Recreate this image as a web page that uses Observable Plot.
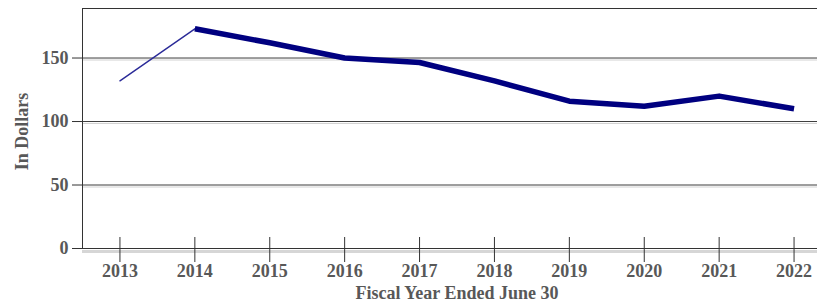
<!DOCTYPE html>
<html>
<head>
<meta charset="utf-8">
<script src="https://cdn.jsdelivr.net/npm/d3@7"></script>
<script src="https://cdn.jsdelivr.net/npm/@observablehq/plot@0.6"></script>
<style>
  html, body { margin: 0; padding: 0; background: #fff; overflow: hidden; }
  #chart { width: 817px; height: 303px; overflow: hidden; }
  #chart svg { max-width: none !important; }
</style>
</head>
<body>
<div id="chart"></div>
<script>
const years = [2013, 2014, 2015, 2016, 2017, 2018, 2019, 2020, 2021, 2022];
const values = [132, 173, 162, 150, 146.5, 132, 116, 112, 120, 110];
const yTicks = [0, 50, 100, 150];
const xTitle = "Fiscal Year Ended June 30";
const yTitle = "In Dollars";

const data = years.map((y, i) => ({year: y, value: values[i]}));
const thin = data.slice(0, 2);
const thick = data.slice(1);

const textColor = "#585858";

const plot = Plot.plot({
  width: 831,
  height: 303,
  marginLeft: 82,
  marginRight: 0,
  marginTop: 8,
  marginBottom: 55,
  style: {fontFamily: "'Liberation Serif', 'Times New Roman', serif", fontSize: "18px", fontWeight: "bold", color: textColor, background: "#fff", maxWidth: "none"},
  x: {type: "point", domain: years, padding: 0.5, round: false, label: null},
  y: {domain: [0, 189], round: false, label: null},
  marks: [
    Plot.gridY(yTicks, {stroke: "#d2d2d2", strokeOpacity: 1, dy: 2}),
    Plot.gridY(yTicks, {stroke: "#3c3c3c", strokeOpacity: 1}),
    Plot.ruleY([0], {stroke: "#d6d6d6", strokeWidth: 3, dy: 3}),
    Plot.frame({stroke: "#333"}),
    Plot.ruleX(years, {x: d => d, y1: 0, y2: 0, insetTop: -11, insetBottom: -14, stroke: "#333"}),
    Plot.axisY(yTicks, {tickSize: 10, tickPadding: 4, stroke: "#333", fill: textColor, label: null}),
    Plot.axisX(years, {tickSize: 0, tickPadding: 16, tickFormat: d => String(d), fill: textColor, label: null}),
    Plot.line(thin, {x: "year", y: "value", stroke: "#2a2a98", strokeWidth: 1.4}),
    Plot.line(thick, {x: "year", y: "value", stroke: "#000080", strokeWidth: 5.5, strokeLinejoin: "round", strokeLinecap: "butt"}),
    Plot.text([xTitle], {frameAnchor: "bottom", lineAnchor: "middle", dy: 45, fill: textColor, fontSize: 18}),
    Plot.text([yTitle], {frameAnchor: "left", textAnchor: "middle", lineAnchor: "middle", dx: -60, dy: 3, rotate: -90, fill: textColor, fontSize: 18})
  ]
});
document.getElementById("chart").appendChild(plot);
</script>
</body>
</html>
